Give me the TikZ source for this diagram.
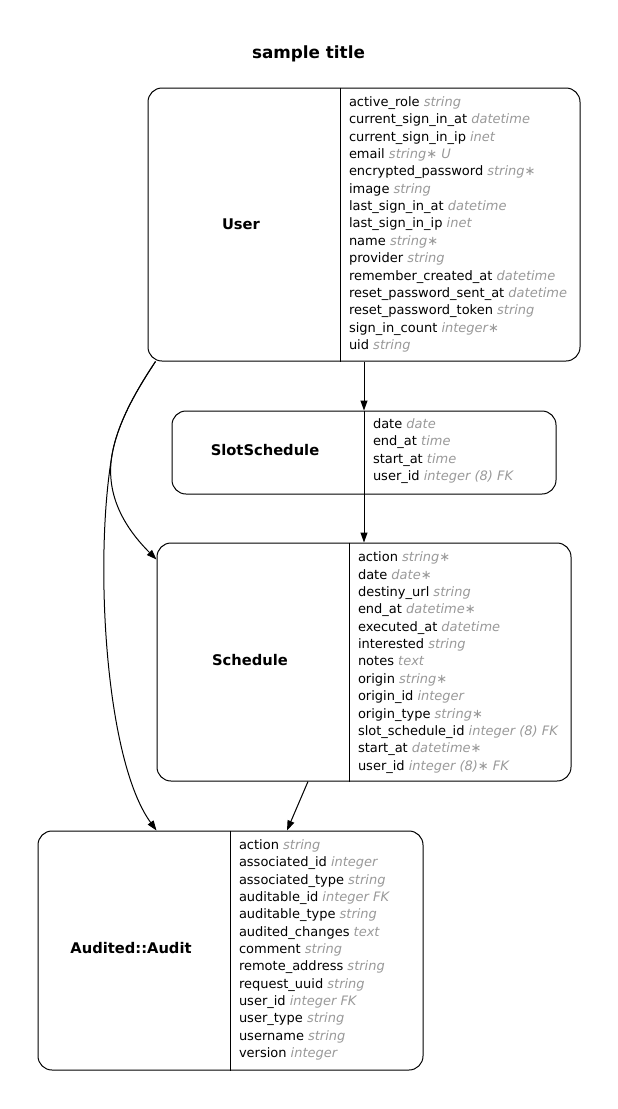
\documentclass[tikz,border=0pt]{standalone}
\usepackage{fontspec}
\setmainfont{DejaVu Sans}
\usetikzlibrary{arrows.meta}
\definecolor{typegray}{HTML}{999999}
\newcommand{\fld}[2]{\strut#1 \textcolor{typegray}{\itshape#2}}

\begin{document}
\begin{tikzpicture}[x=1pt, y=-1pt,
        table/.style={rectangle, draw, rounded corners=14pt, line width=1pt},
        tname/.style={font=\fontsize{14.7}{17}\selectfont\bfseries, inner sep=0pt},
        fields/.style={anchor=west, align=left, inner xsep=9pt, inner ysep=0pt, outer sep=0pt, font=\fontsize{13}{17.35}\selectfont},
        divider/.style={line width=1pt},
        fk/.style={line width=1pt, -{Triangle[length=10pt, width=7pt]}}
    ]
        \useasboundingbox (0,0) rectangle (618,1109);
        \node[font=\fontsize{16.8}{20}\selectfont\bfseries, inner sep=0pt, anchor=base] (title) at (308.5,58) {sample title};

        % User
        \node[table, minimum width=432pt, minimum height=273pt] (User) at (364,224.5) {};
        \node[tname] (UserN) at (241,224) {User};
        \node[fields] (UserF) at (340,224.5) {\fld{active\_role}{string}\\ \fld{current\_sign\_in\_at}{datetime}\\
            \fld{current\_sign\_in\_ip}{inet}\\ \fld{email}{string∗ U}\\ \fld{encrypted\_password}{string∗}\\
            \fld{image}{string}\\ \fld{last\_sign\_in\_at}{datetime}\\ \fld{last\_sign\_in\_ip}{inet}\\
            \fld{name}{string∗}\\ \fld{provider}{string}\\ \fld{remember\_created\_at}{datetime}\\
            \fld{reset\_password\_sent\_at}{datetime}\\ \fld{reset\_password\_token}{string}\\
            \fld{sign\_in\_count}{integer∗}\\ \fld{uid}{string}};
        \draw[divider] (UserF.west |- User.north) -- (UserF.west |- User.south);

        % SlotSchedule
        \node[table, minimum width=384pt, minimum height=83pt] (Slot) at (364,452.5) {};
        \node[tname] (SlotN) at (265,450) {SlotSchedule};
        \node[fields] (SlotF) at (364,451) {\fld{date}{date}\\ \fld{end\_at}{time}\\ \fld{start\_at}{time}\\
            \fld{user\_id}{integer (8) FK}};
        \draw[divider] (SlotF.west |- Slot.north) -- (SlotF.west |- Slot.south);

        % Schedule
        \node[table, minimum width=414pt, minimum height=238pt] (Sched) at (364,662) {};
        \node[tname] (SchedN) at (250,660) {Schedule};
        \node[fields] (SchedF) at (349,662.5) {\fld{action}{string∗}\\ \fld{date}{date∗}\\ \fld{destiny\_url}{string}\\
            \fld{end\_at}{datetime∗}\\ \fld{executed\_at}{datetime}\\ \fld{interested}{string}\\
            \fld{notes}{text}\\ \fld{origin}{string∗}\\ \fld{origin\_id}{integer}\\ \fld{origin\_type}{string∗}\\
            \fld{slot\_schedule\_id}{integer (8) FK}\\ \fld{start\_at}{datetime∗}\\ \fld{user\_id}{integer (8)∗ FK}};
        \draw[divider] (SchedF.west |- Sched.north) -- (SchedF.west |- Sched.south);

        % Audited::Audit
        \node[table, minimum width=385pt, minimum height=239pt] (Audit) at (230.5,950.5) {};
        \node[tname] (AuditN) at (131,948) {Audited::Audit};
        \node[fields] (AuditF) at (230,950) {\fld{action}{string}\\ \fld{associated\_id}{integer}\\
            \fld{associated\_type}{string}\\ \fld{auditable\_id}{integer FK}\\ \fld{auditable\_type}{string}\\
            \fld{audited\_changes}{text}\\ \fld{comment}{string}\\ \fld{remote\_address}{string}\\
            \fld{request\_uuid}{string}\\ \fld{user\_id}{integer FK}\\ \fld{user\_type}{string}\\
            \fld{username}{string}\\ \fld{version}{integer}};
        \draw[divider] (AuditF.west |- Audit.north) -- (AuditF.west |- Audit.south);

        \draw[fk] (User.south) -- (Slot.north);
        \draw[fk] (Slot.south) -- (Sched.north);
        \draw[fk] ([xshift=8pt]User.south west) .. controls (140,385) and (118,420) .. (112,455)
            .. controls (104.8,497) and (127,530) .. ([yshift=-17pt]Sched.north west);
        \draw[fk] ([xshift=8pt]User.south west) .. controls (140,385) and (118,420) .. (112,455)
            .. controls (94,560) and (105,760) .. ([xshift=119pt]Audit.north west);
        \draw[fk] ([xshift=-56pt]Sched.south) -- ([xshift=56.5pt]Audit.north);
    \end{tikzpicture}
\end{document}
